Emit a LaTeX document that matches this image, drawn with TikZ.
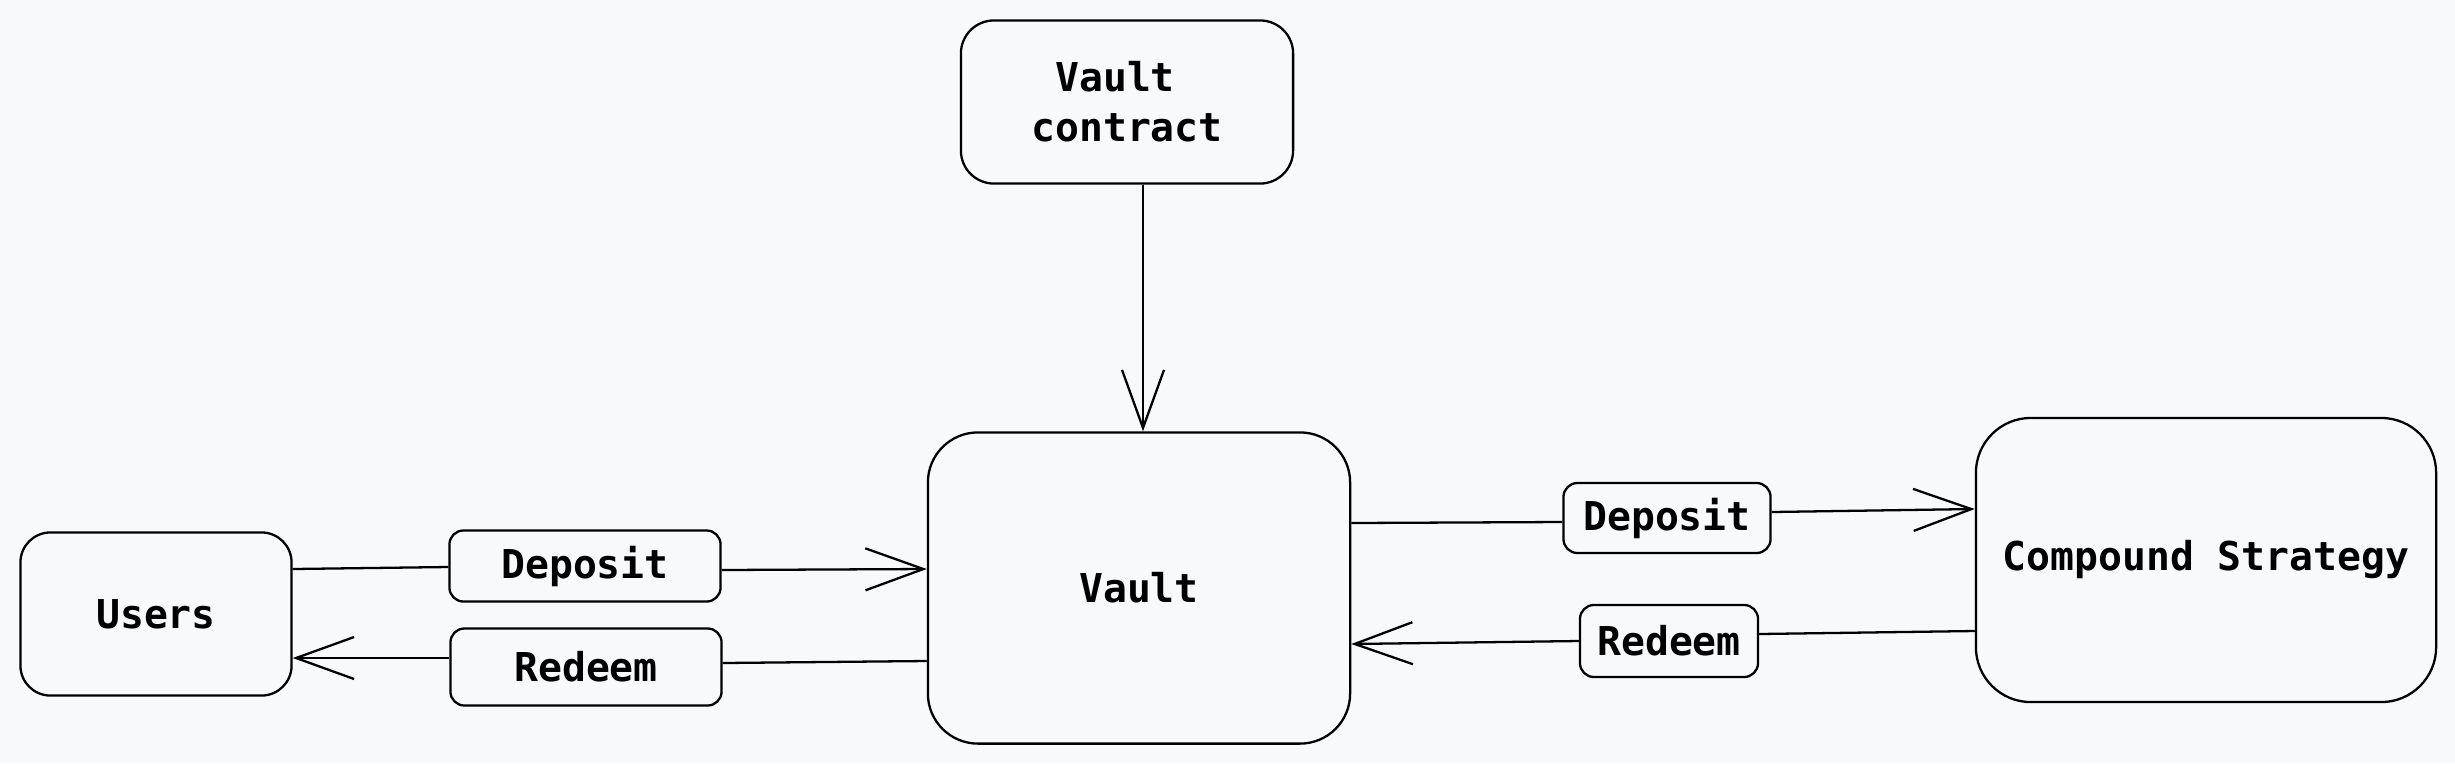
\documentclass[tikz,border=0pt]{standalone}
\usepackage{fontspec}
\setmonofont{DejaVu Sans Mono}
\usetikzlibrary{arrows.meta,calc}
\definecolor{canvas}{RGB}{248,249,251}

\begin{document}
\begin{tikzpicture}[x=0.01cm,y=-0.01cm]
	%defines
	\tikzstyle{bigbox} = [rectangle, rounded corners=0.3cm, text centered, draw=black, line width=0.65pt, font=\ttfamily\bfseries\fontsize{11.3}{14.2}\selectfont]
	\tikzstyle{tagbox} = [rectangle, rounded corners=0.14cm, text centered, draw=black, line width=0.65pt, font=\ttfamily\bfseries\fontsize{11.3}{14.2}\selectfont]
	\tikzstyle{link} = [line width=0.65pt]
	\tikzstyle{arrow} = [line width=0.65pt, -{Straight Barb[length=0.58cm,width=0.42cm]}]
	%canvas
	\fill[canvas] (0,0) rectangle (2455,763);
	%chart
	\node (vaultContract) [bigbox, minimum width=3.32cm, minimum height=1.63cm, rounded corners=0.33cm, align=center] at (1127,102) {Vault\phantom{a}\\contract};
	\node (vault) [bigbox, minimum width=4.22cm, minimum height=3.11cm, rounded corners=0.5cm] at (1139,588) {Vault};
	\node (users) [bigbox, minimum width=2.71cm, minimum height=1.63cm] at (156,614) {Users};
	\node (compound) [bigbox, minimum width=4.6cm, minimum height=2.84cm, rounded corners=0.55cm] at (2206,560) {Compound Strategy};
	\node (depositLeft) [tagbox, minimum width=2.71cm, minimum height=0.71cm] at (585,566) {Deposit};
	\node (redeemLeft) [tagbox, minimum width=2.71cm, minimum height=0.77cm] at (586,667) {Redeem};
	\node (depositRight) [tagbox, minimum width=2.07cm, minimum height=0.7cm] at (1667,518) {Deposit};
	\node (redeemRight) [tagbox, minimum width=1.78cm, minimum height=0.72cm] at (1669,641) {Redeem};
	\draw [arrow] ($(vaultContract.south -| vault.north)+(4,0)$) -- ($(vault.north)+(4,0)$);
	\draw [link] ($(depositLeft.west -| users.east)+(0,3)$) -- ($(depositLeft.west)+(0,1)$);
	\draw [arrow] ($(depositLeft.east)+(0,4)$) -- ($(depositLeft.east -| vault.west)+(0,3)$);
	\draw [link] ($(redeemLeft.east -| vault.west)+(0,-6)$) -- ($(redeemLeft.east)+(0,-4)$);
	\draw [arrow] ($(redeemLeft.west)+(0,-9)$) -- ($(redeemLeft.west -| users.east)+(0,-9)$);
	\draw [link] ($(depositRight.west -| vault.east)+(0,5)$) -- ($(depositRight.west)+(0,4)$);
	\draw [arrow] ($(depositRight.east)+(0,-6)$) -- ($(depositRight.east -| compound.west)+(0,-9)$);
	\draw [link] ($(redeemRight.east -| compound.west)+(0,-10)$) -- ($(redeemRight.east)+(0,-7)$);
	\draw [arrow] (redeemRight.west) -- ($(redeemRight.west -| vault.east)+(0,3)$);
\end{tikzpicture}
\end{document}
